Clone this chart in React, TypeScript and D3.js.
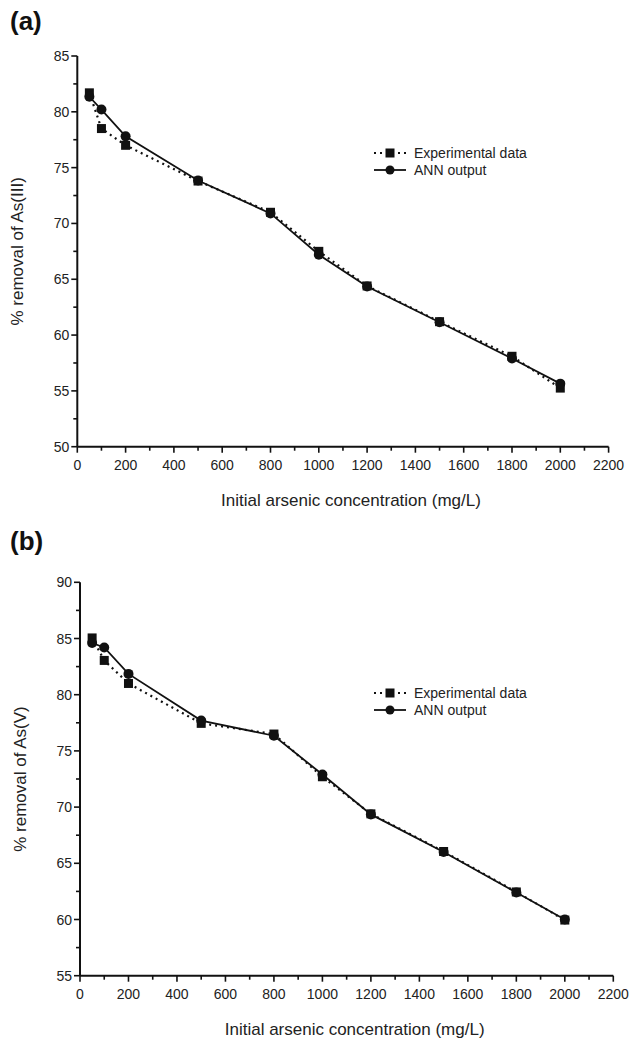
import React from "react";
import * as d3 from "d3";

const concentrations = [50, 100, 200, 500, 800, 1000, 1200, 1500, 1800, 2000];
const expA = [81.7, 78.5, 77.0, 73.8, 71.0, 67.5, 64.4, 61.2, 58.1, 55.25];
const annA = [81.35, 80.2, 77.8, 73.85, 70.9, 67.2, 64.35, 61.15, 57.9, 55.65];
const expB = [85.05, 83.05, 81.0, 77.45, 76.5, 72.7, 69.4, 66.05, 62.45, 59.95];
const annB = [84.6, 84.2, 81.85, 77.7, 76.35, 72.9, 69.35, 66.0, 62.4, 60.0];
const xTicks = [0, 200, 400, 600, 800, 1000, 1200, 1400, 1600, 1800, 2000, 2200];
const yTicksA = [50, 55, 60, 65, 70, 75, 80, 85];
const yTicksB = [55, 60, 65, 70, 75, 80, 85, 90];
const legendLabels = ["Experimental data", "ANN output"];

const FONT = "'Liberation Sans', Arial, sans-serif";

type PanelProps = {
  label: string;
  labelY: number;
  left: number;
  right: number;
  top: number;
  bottom: number;
  yDomain: [number, number];
  yTicks: number[];
  exp: number[];
  ann: number[];
  yTitle: string;
  legendY: number;
};

function Panel(p: PanelProps) {
  const x = d3.scaleLinear().domain([0, 2200]).range([p.left, p.right]);
  const y = d3.scaleLinear().domain(p.yDomain).range([p.bottom, p.top]);
  const line = d3
    .line<number>()
    .x((_, i) => x(concentrations[i]))
    .y((d) => y(d));
  const minorX = d3.range(100, 2200, 200);
  const minorY = p.yTicks.slice(0, -1).map((v) => v + 2.5);
  const sq = 9;
  const r = 5;
  const lx0 = 374;
  const lx1 = 406;
  const lxm = 390;
  const ly0 = p.legendY;
  const ly1 = p.legendY + 17;
  return (
    <g>
      <text x={10} y={p.labelY} fontFamily={FONT} fontWeight="bold" fontSize={26} fill="#111">
        {p.label}
      </text>
      <line x1={p.left} x2={p.left} y1={p.top} y2={p.bottom} stroke="#111" strokeWidth={2} />
      <line x1={p.left} x2={p.right} y1={p.bottom} y2={p.bottom} stroke="#111" strokeWidth={2} />
      {p.yTicks.map((v) => (
        <g key={"yt" + v}>
          <line x1={p.left - 6} x2={p.left} y1={y(v)} y2={y(v)} stroke="#111" strokeWidth={1.6} />
          <text x={p.left - 8} y={y(v) + 5} textAnchor="end" fontFamily={FONT} fontSize={14} fill="#222">
            {v}
          </text>
        </g>
      ))}
      {minorY.map((v) => (
        <line key={"ym" + v} x1={p.left - 4} x2={p.left} y1={y(v)} y2={y(v)} stroke="#111" strokeWidth={1.6} />
      ))}
      {xTicks.map((v) => (
        <g key={"xt" + v}>
          <line x1={x(v)} x2={x(v)} y1={p.bottom} y2={p.bottom + 6} stroke="#111" strokeWidth={1.6} />
          <text x={x(v)} y={p.bottom + 23} textAnchor="middle" fontFamily={FONT} fontSize={14} fill="#222">
            {v}
          </text>
        </g>
      ))}
      {minorX.map((v) => (
        <line key={"xm" + v} x1={x(v)} x2={x(v)} y1={p.bottom} y2={p.bottom + 4} stroke="#111" strokeWidth={1.6} />
      ))}
      <text
        x={(p.left + p.right) / 2 + 8}
        y={p.bottom + 59}
        textAnchor="middle"
        fontFamily={FONT}
        fontSize={17}
        fill="#222"
      >
        Initial arsenic concentration (mg/L)
      </text>
      <text
        transform={`translate(${p.left - 54},${(p.top + p.bottom) / 2}) rotate(-90)`}
        textAnchor="middle"
        fontFamily={FONT}
        fontSize={17}
        fill="#222"
      >
        {p.yTitle}
      </text>
      <path d={line(p.exp) || ""} fill="none" stroke="#111" strokeWidth={2.2} strokeDasharray="2,4" />
      <path d={line(p.ann) || ""} fill="none" stroke="#111" strokeWidth={1.8} />
      {p.exp.map((v, i) => (
        <rect
          key={"s" + i}
          x={x(concentrations[i]) - sq / 2}
          y={y(v) - sq / 2}
          width={sq}
          height={sq}
          fill="#111"
        />
      ))}
      {p.ann.map((v, i) => (
        <circle key={"c" + i} cx={x(concentrations[i])} cy={y(v)} r={r} fill="#111" />
      ))}
      <line x1={lx0} x2={lx1} y1={ly0} y2={ly0} stroke="#111" strokeWidth={2.2} strokeDasharray="2,4" />
      <rect x={lxm - 4.5} y={ly0 - 4.5} width={9} height={9} fill="#111" />
      <text x={414} y={ly0 + 5} fontFamily={FONT} fontSize={14} fill="#222">
        {legendLabels[0]}
      </text>
      <line x1={lx0} x2={lx1} y1={ly1} y2={ly1} stroke="#111" strokeWidth={1.8} />
      <circle cx={lxm} cy={ly1} r={4.5} fill="#111" />
      <text x={414} y={ly1 + 5} fontFamily={FONT} fontSize={14} fill="#222">
        {legendLabels[1]}
      </text>
    </g>
  );
}

export default function App() {
  return (
    <svg
      width={633}
      height={1041}
      style={{ position: "absolute", left: 0, top: 0, background: "#fff" }}
    >
      <rect width={633} height={1041} fill="#fff" />
      <Panel
        label="(a)"
        labelY={30}
        left={77.3}
        right={608.6}
        top={56}
        bottom={446.7}
        yDomain={[50, 85]}
        yTicks={yTicksA}
        exp={expA}
        ann={annA}
        yTitle="% removal of As(III)"
        legendY={153}
      />
      <Panel
        label="(b)"
        labelY={550}
        left={80}
        right={613.3}
        top={582.3}
        bottom={975.7}
        yDomain={[55, 90]}
        yTicks={yTicksB}
        exp={expB}
        ann={annB}
        yTitle="% removal of As(V)"
        legendY={693}
      />
    </svg>
  );
}
